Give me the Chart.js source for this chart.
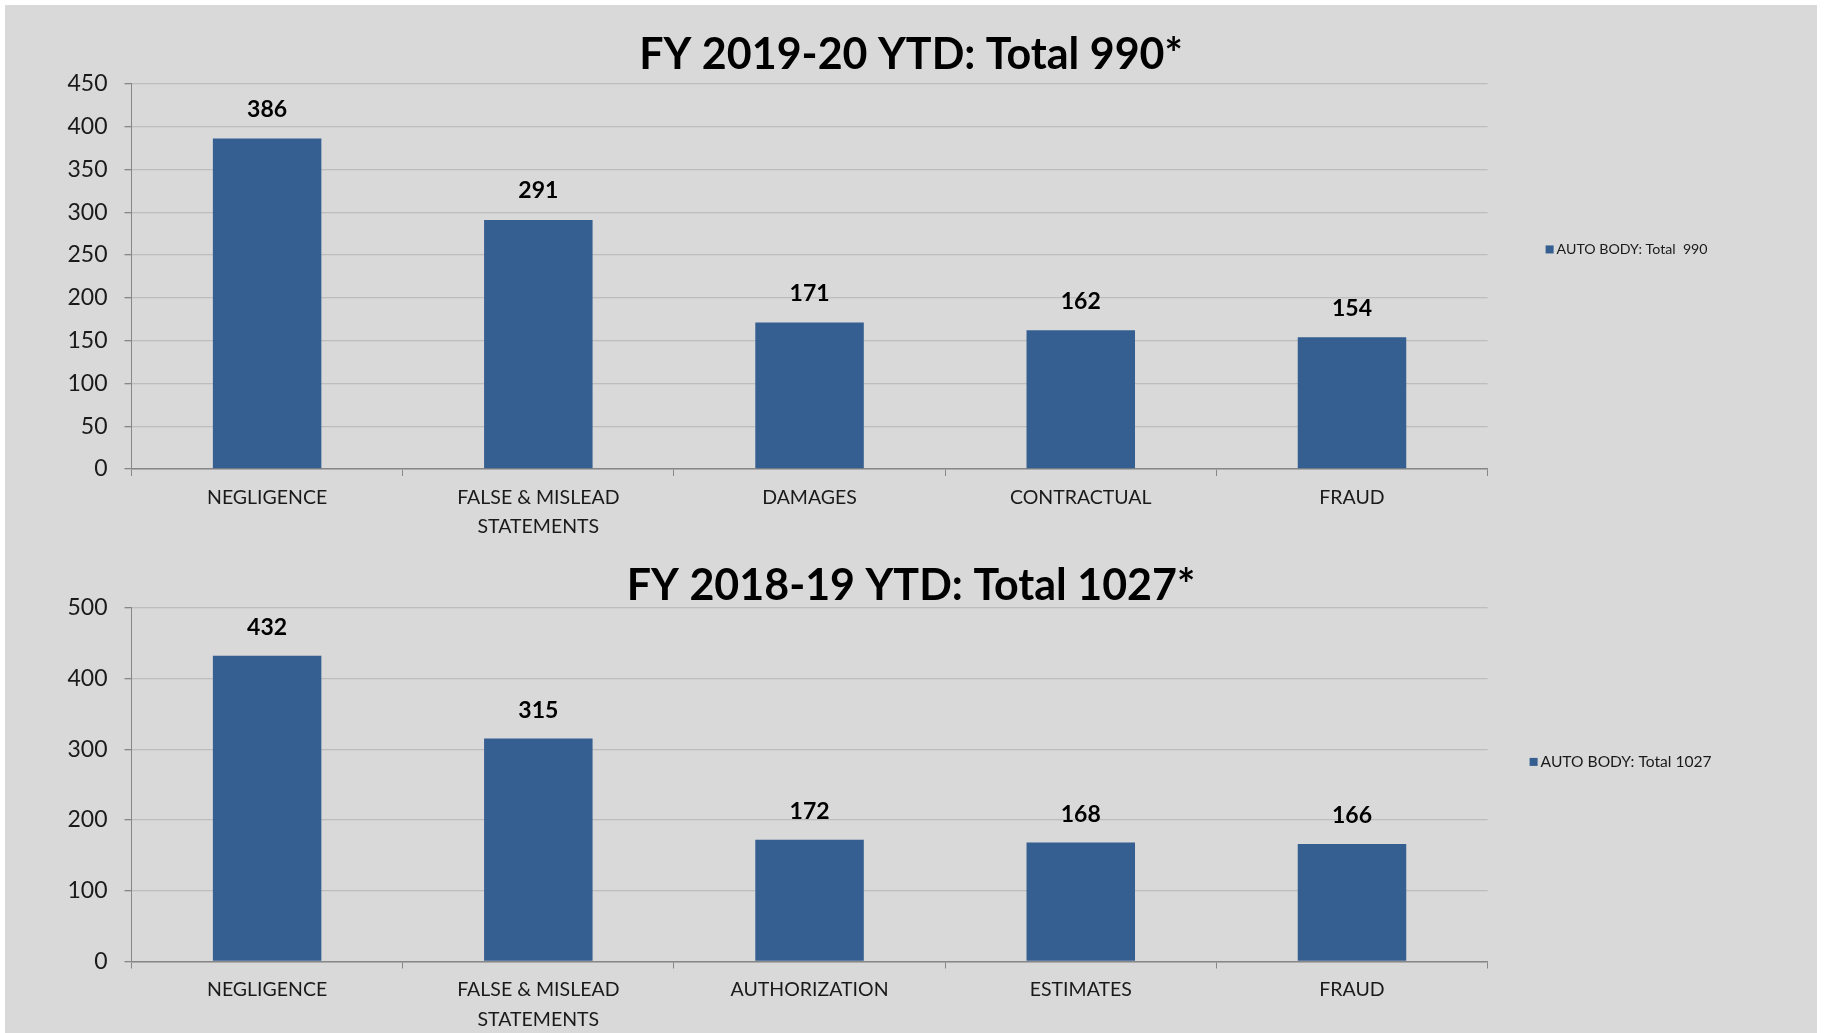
<!DOCTYPE html>
<html><head><meta charset="utf-8">
<script src="https://cdn.jsdelivr.net/npm/chart.js@4.4.1/dist/chart.umd.min.js"></script>
<style>
html,body{margin:0;padding:0;background:#fff;width:1825px;height:1033px;overflow:hidden;}
#bg{position:absolute;left:5px;top:5px;width:1812px;height:1028px;background:#d9d9d9;}
canvas{position:absolute;left:5px;}
#c1{top:5px} #c2{top:545px}
</style></head><body>
<div id="bg"></div>
<canvas id="c1" width="1812" height="540"></canvas>
<canvas id="c2" width="1812" height="488"></canvas>
<script>
// ---- data ----
const categoriesFY20 = ['NEGLIGENCE', ['FALSE & MISLEAD', 'STATEMENTS'], 'DAMAGES', 'CONTRACTUAL', 'FRAUD'];
const valuesFY20 = [386, 291, 171, 162, 154];
const titleFY20 = 'FY 2019-20 YTD: Total 990*';
const seriesFY20 = 'AUTO BODY: Total  990';
const yTicksFY20 = [0, 50, 100, 150, 200, 250, 300, 350, 400, 450];

const categoriesFY19 = ['NEGLIGENCE', ['FALSE & MISLEAD', 'STATEMENTS'], 'AUTHORIZATION', 'ESTIMATES', 'FRAUD'];
const valuesFY19 = [432, 315, 172, 168, 166];
const titleFY19 = 'FY 2018-19 YTD: Total 1027*';
const seriesFY19 = 'AUTO BODY: Total 1027';
const yTicksFY19 = [0, 100, 200, 300, 400, 500];

// ---- plugins ----
const valueLabels = {
  id: 'valueLabels',
  afterDatasetsDraw(chart, args, opts) {
    const ctx = chart.ctx;
    chart.data.datasets.forEach((ds, i) => {
      chart.getDatasetMeta(i).data.forEach((bar, j) => {
        ctx.save();
        ctx.font = 'bold ' + opts.size + 'px Lato';
        ctx.fillStyle = '#000';
        ctx.textAlign = 'center';
        ctx.textBaseline = 'middle';
        ctx.fillText(String(ds.data[j]), bar.x, bar.y - opts.offset);
        ctx.restore();
      });
    });
  }
};
const sideLegend = {
  id: 'sideLegend',
  afterDraw(chart, args, opts) {
    const ca = chart.chartArea, ctx = chart.ctx;
    const ds = chart.data.datasets[0];
    const x = ca.right + opts.dx;
    const y = ca.top + opts.fy * (ca.bottom - ca.top);
    ctx.save();
    ctx.fillStyle = ds.backgroundColor;
    ctx.fillRect(x, y - opts.box / 2, opts.box, opts.box);
    ctx.font = opts.size + 'px Lato';
    ctx.fillStyle = '#1a1a1a';
    ctx.textAlign = 'left';
    ctx.textBaseline = 'middle';
    ctx.fillText(ds.label, x + opts.box + 3, y);
    ctx.restore();
  }
};

function makeChart(id, cats, vals, label, title, yTicks, cfg) {
  const axisColor = '#878787';
  return new Chart(document.getElementById(id), {
    type: 'bar',
    data: {
      labels: cats,
      datasets: [{
        label: label,
        data: vals,
        backgroundColor: '#355E91',
        borderWidth: 0,
        categoryPercentage: 1.0,
        barPercentage: 0.4
      }]
    },
    options: {
      responsive: false,
      devicePixelRatio: 1,
      animation: false,
      layout: { padding: 0 },
      plugins: {
        legend: { display: false },
        tooltip: { enabled: false },
        title: {
          display: true,
          text: title,
          color: '#000',
          font: { family: 'Lato', size: 43, weight: 'bold', lineHeight: 1 },
          padding: { top: cfg.titleTop, bottom: cfg.titleBottom }
        },
        valueLabels: { size: 23, offset: cfg.labelOffset },
        sideLegend: { dx: cfg.legDx, fy: cfg.legFy, box: 8, size: cfg.legSize }
      },
      scales: {
        x: {
          type: 'category',
          grid: { display: true, offset: true, drawOnChartArea: false, drawTicks: true, tickLength: 7, color: axisColor },
          border: { display: true, color: axisColor, width: 1.5 },
          ticks: { font: { family: 'Lato', size: 19.5, lineHeight: 1.5 }, color: '#1a1a1a', padding: 7, maxRotation: 0, autoSkip: false },
          afterFit(s) { s.height = cfg.xHeight; }
        },
        y: {
          min: yTicks[0],
          max: yTicks[yTicks.length - 1],
          afterBuildTicks(s) { s.ticks = yTicks.map(v => ({ value: v })); },
          grid: { color: '#bdbdbd', tickColor: axisColor, tickLength: 7, lineWidth: 1.3 },
          border: { display: true, color: axisColor, width: 1 },
          ticks: { font: { family: 'Lato', size: 23 }, color: '#1a1a1a', padding: 17 },
          afterFit(s) { s.width = 126.5; }
        },
        yPad: {
          position: 'right',
          display: true,
          grid: { display: false },
          border: { display: false },
          ticks: { display: false },
          afterFit(s) { s.width = 329.4; }
        }
      }
    },
    plugins: [valueLabels, sideLegend]
  });
}

makeChart('c1', categoriesFY20, valuesFY20, seriesFY20, titleFY20, yTicksFY20,
  { titleTop: 28.7, titleBottom: 7.1, xHeight: 76, labelOffset: 29, legDx: 58, legFy: 0.43, legSize: 14.2 });
makeChart('c2', categoriesFY19, valuesFY19, seriesFY19, titleFY19, yTicksFY19,
  { titleTop: 19.5, titleBottom: 0.1, xHeight: 71.5, labelOffset: 28, legDx: 42, legFy: 0.436, legSize: 15.6 });
</script>
</body></html>
